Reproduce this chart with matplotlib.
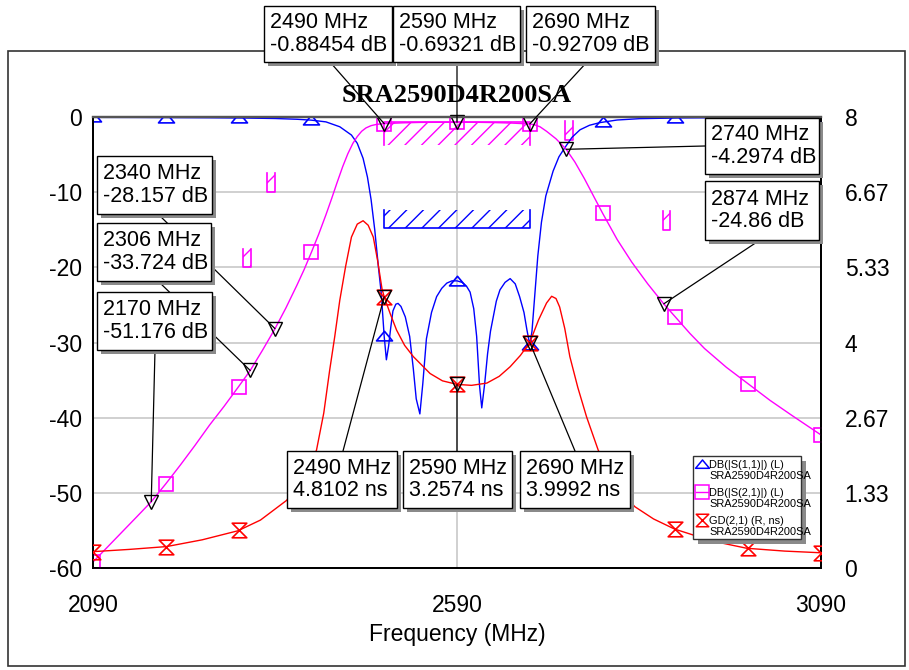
import numpy as np
import matplotlib
matplotlib.use('Agg')
import matplotlib.pyplot as plt
from matplotlib.path import Path
from matplotlib.patches import Rectangle, ConnectionPatch

# ---------------- data ----------------
freq_s11 = [2090, 2150, 2200, 2250, 2300, 2340, 2370, 2390, 2410, 2429, 2445, 2453, 2461,
            2467, 2472, 2477, 2482, 2486, 2490, 2493, 2496, 2499, 2502, 2506, 2509, 2513,
            2519, 2525, 2530, 2534, 2539, 2543, 2548, 2555, 2562, 2569, 2576, 2583, 2590,
            2597, 2603, 2608, 2613, 2617, 2621, 2624, 2628, 2632, 2636, 2640, 2644, 2649,
            2656, 2663, 2670, 2676, 2682, 2686, 2690, 2693, 2697, 2701, 2706, 2712, 2722,
            2730, 2738, 2748, 2759, 2772, 2786, 2810, 2841, 2900, 2980, 3090]
s11_db = [-0.05, -0.06, -0.08, -0.1, -0.14, -0.2, -0.3, -0.42, -0.65, -1.3, -2.4, -3.5, -5.5,
          -8.0, -11.0, -15.0, -19.9, -23.5, -29.2, -32.3, -30.5, -28.0, -25.8, -24.9, -24.8, -25.2,
          -26.6, -29.2, -33.5, -37.5, -39.5, -35.5, -29.5, -26.0, -23.9, -22.8, -22.1, -21.8, -21.8,
          -22.0, -22.5, -23.3, -25.5, -29.2, -35.8, -38.7, -35.5, -31.5, -28.5, -26.5, -24.5, -23.0,
          -22.0, -21.5, -22.2, -23.9, -26.0, -28.3, -30.3, -28.5, -23.5, -18.5, -14.0, -10.5, -7.2,
          -5.3, -4.1, -2.7, -1.7, -1.1, -0.75, -0.4, -0.22, -0.12, -0.08, -0.05]

freq_s21 = [2090, 2110, 2130, 2150, 2170, 2190, 2210, 2230, 2250, 2270, 2289, 2306, 2323, 2340,
            2355, 2370, 2380, 2390, 2400, 2410, 2418, 2425, 2433, 2440, 2447, 2453, 2459, 2465,
            2472, 2480, 2490, 2515, 2540, 2565, 2590, 2615, 2640, 2665, 2690, 2697, 2704, 2713,
            2726, 2740, 2752, 2765, 2778, 2790, 2810, 2830, 2852, 2874, 2889, 2910, 2930, 2960,
            2990, 3020, 3050, 3090]
s21_db = [-59.2, -57.2, -55.2, -53.2, -51.18, -48.8, -46.3, -43.7, -41.0, -38.5, -36.0, -33.72,
          -31.0, -28.16, -25.4, -22.4, -20.3, -18.0, -15.6, -13.0, -10.8, -8.8, -6.6, -4.9, -3.5,
          -2.6, -1.9, -1.45, -1.15, -0.97, -0.885, -0.78, -0.72, -0.70, -0.693, -0.70, -0.74,
          -0.81, -0.927, -1.05, -1.3, -1.9, -2.9, -4.3, -6.0, -8.2, -10.6, -12.8, -16.3, -19.3,
          -22.2, -24.86, -26.5, -28.8, -30.8, -33.3, -35.5, -37.7, -39.7, -42.3]

freq_gd = [2090, 2140, 2191, 2240, 2289, 2320, 2356, 2380, 2397, 2407, 2415, 2422, 2429, 2437,
           2445, 2453, 2461, 2468, 2475, 2481, 2487, 2490, 2498, 2507, 2518, 2530, 2553, 2570,
           2590, 2610, 2631, 2648, 2663, 2677, 2690, 2702, 2713, 2720, 2726, 2731, 2738, 2745,
           2756, 2768, 2784, 2805, 2834, 2860, 2889, 2940, 2988, 3040, 3090]
gd_ns = [0.29, 0.33, 0.38, 0.5, 0.66, 0.85, 1.2, 1.65, 2.09, 2.75, 3.5, 4.1, 4.75, 5.35,
         5.87, 6.1, 6.16, 6.08, 5.87, 5.45, 4.95, 4.81, 4.52, 4.22, 3.95, 3.75, 3.45, 3.32,
         3.257, 3.24, 3.28, 3.4, 3.57, 3.77, 4.0, 4.4, 4.7, 4.82, 4.78, 4.63, 4.25, 3.75,
         3.2, 2.68, 2.09, 1.55, 1.09, 0.87, 0.69, 0.48, 0.35, 0.3, 0.27]

marker_freqs = [2090, 2190, 2290, 2390, 2490, 2590, 2690, 2790, 2890, 2990, 3090]

# marker annotations (dB, left axis)
mk_db_freq = [2490, 2590, 2690, 2740, 2874, 2340, 2306, 2170]
mk_db_val = [-0.88454, -0.69321, -0.92709, -4.2974, -24.86, -28.157, -33.724, -51.176]
# marker annotations (ns, right axis)
mk_gd_freq = [2490, 2590, 2690]
mk_gd_val = [4.8102, 3.2574, 3.9992]

# spec lines: (f_start, f_stop, level)
spec_s21_pass = (2490, 2690, -0.6)
spec_s11_pass = (2490, 2690, -14.8)
spec_s21_rej = [(2329, 2340, -10), (2296, 2307, -20), (2738, 2749, -3), (2873, 2882, -15)]

title = "SRA2590D4R200SA"
x_ticks = [2090, 2590, 3090]
yl_ticks = [0, -10, -20, -30, -40, -50, -60]
yr_ticks = [0, 4/3, 8/3, 4, 16/3, 20/3, 8]
yr_labels = ["0", "1.33", "2.67", "4", "5.33", "6.67", "8"]

# ---------------- figure ----------------
W, H = 909, 670
plt.rcParams['font.family'] = ['Liberation Sans', 'DejaVu Sans']
plt.rcParams['hatch.linewidth'] = 1.0
fig = plt.figure(figsize=(W / 100, H / 100), dpi=100)

def fx(x):
    return x / W

def fy(y):
    return 1 - y / H

L, R, T, B = 93, 821, 117, 568
ax = fig.add_axes([fx(L), fy(B), (R - L) / W, (B - T) / H])
ax2 = ax.twinx()

BLUE, MAG, RED = '#0000ff', '#ff00ff', '#ff0000'

# outer frame
fig.add_artist(Rectangle((fx(8), fy(666)), (905 - 8) / W, (666 - 51) / H,
                         transform=fig.transFigure, fill=False, ec='#333333', lw=1.2, zorder=0))

ax.set_xlim(2090, 3090)
ax.set_ylim(-60, 0)
ax2.set_ylim(0, 8)
ax.set_xticks(x_ticks)
ax.set_xticklabels([str(t) for t in x_ticks])
ax.set_yticks(yl_ticks)
ax.set_yticklabels([str(t) for t in yl_ticks])
ax2.set_yticks(yr_ticks)
ax2.set_yticklabels(yr_labels)
ax.tick_params(axis='x', length=0, pad=19, labelsize=16.5)
ax.tick_params(axis='y', length=0, pad=8, labelsize=16.5)
ax2.tick_params(axis='y', length=0, pad=17, labelsize=16.5)
for a in (ax, ax2):
    for s in ['left', 'right', 'bottom']:
        a.spines[s].set_color('black')
        a.spines[s].set_linewidth(1.3)
    a.spines['top'].set_color('#555555')
    a.spines['top'].set_linewidth(1.6)
ax.grid(True, color='#c8c8c8', lw=1.2)
ax.set_axisbelow(True)
ax.set_xlabel("Frequency (MHz)", fontsize=16.5, labelpad=4)

# hourglass marker
hourglass = Path([(-1, 1), (1, 1), (-1, -1), (1, -1), (-1, 1)],
                 [Path.MOVETO, Path.LINETO, Path.LINETO, Path.LINETO, Path.CLOSEPOLY])
flat_tri = Path([(-1, -0.55), (1, -0.55), (0, 0.65), (-1, -0.55)],
                [Path.MOVETO, Path.LINETO, Path.LINETO, Path.CLOSEPOLY])

# curves
ax.plot(freq_s11, s11_db, color=BLUE, lw=1.0, zorder=3)
ax.plot(freq_s21, s21_db, color=MAG, lw=1.0, zorder=3)
ax2.plot(freq_gd, gd_ns, color=RED, lw=1.0, zorder=3)

ax.plot(marker_freqs, np.interp(marker_freqs, freq_s11, s11_db), ls='none', marker=flat_tri,
        ms=11.5, mfc='none', mec=BLUE, mew=1.2, zorder=4)
ax.plot(marker_freqs, np.interp(marker_freqs, freq_s21, s21_db), ls='none', marker='s',
        ms=10.5, mfc='none', mec=MAG, mew=1.2, zorder=4)
ax2.plot(marker_freqs, np.interp(marker_freqs, freq_gd, gd_ns), ls='none', marker=hourglass,
         ms=10.5, mfc='none', mec=RED, mew=1.2, zorder=4)

# spec masks
def spec(f0, f1, lev, color, hatch_dir, depth):
    y0, y1 = (lev - depth, lev) if hatch_dir == 'down' else (lev, lev + depth)
    ax.fill_between([f0, f1], [y0, y0], [y1, y1], facecolor='none', edgecolor=color,
                    hatch='//', lw=0, zorder=2)
    other = y0 if hatch_dir == 'down' else y1
    ax.plot([f0, f0, f1, f1], [other, lev, lev, other], color=color, lw=1.2, zorder=2)

spec(*spec_s21_pass, MAG, 'down', 3.1)
spec(*spec_s11_pass, BLUE, 'up', 2.4)
for f0, f1, lev in spec_s21_rej:
    spec(f0, f1, lev, MAG, 'up', 2.5)

# marker triangles
ax.plot(mk_db_freq, mk_db_val, ls='none', marker='v', ms=10, mfc='none', mec='black',
        mew=1.0, zorder=6, clip_on=False)
ax2.plot(mk_gd_freq, mk_gd_val, ls='none', marker='v', ms=10, mfc='none', mec='black',
         mew=1.0, zorder=6, clip_on=False)

# title
fig.text(fx(457), fy(95), title, ha='center', va='center', fontsize=19, fontweight='bold',
         family=['Liberation Serif', 'DejaVu Serif'])

# callout boxes
def callout(box, anchor, axis, f, v, line1, line2):
    x0, y0, x1, y1 = box
    con = ConnectionPatch(xyA=(anchor[0], H - anchor[1]), coordsA='figure pixels',
                          xyB=(f, v), coordsB=axis.transData, color='black', lw=0.9,
                          zorder=7)
    fig.add_artist(con)
    fig.add_artist(Rectangle((fx(x0 + 4), fy(y1 + 4)), (x1 - x0) / W, (y1 - y0) / H,
                             transform=fig.transFigure, fc='#8a8a8a', ec='none', zorder=8))
    fig.add_artist(Rectangle((fx(x0), fy(y1)), (x1 - x0) / W, (y1 - y0) / H,
                             transform=fig.transFigure, fc='white', ec='black', lw=1.0,
                             zorder=9))
    fig.text(fx(x0 + 6), fy((y0 + y1) / 2), line1 + "\n" + line2, ha='left', va='center',
             fontsize=15.5, linespacing=1.12, zorder=10)

db_boxes = [(264, 6, 392, 62), (393, 6, 520, 62), (526, 6, 655, 62),
            (705, 118, 819, 174), (705, 181, 819, 240),
            (97, 156, 212, 214), (97, 223, 211, 281), (97, 292, 212, 350)]
db_anchors = [(330, 62), (457, 62), (587, 62), (705, 146), (760, 240),
              (158, 214), (158, 281), (155, 350)]
for bx, an, f, v in zip(db_boxes, db_anchors, mk_db_freq, mk_db_val):
    callout(bx, an, ax, f, v, f"{f} MHz", f"{v:.5g} dB")

gd_boxes = [(287, 451, 397, 508), (403, 451, 512, 508), (520, 451, 630, 508)]
gd_anchors = [(343, 451), (457, 451), (575, 451)]
for bx, an, f, v in zip(gd_boxes, gd_anchors, mk_gd_freq, mk_gd_val):
    callout(bx, an, ax2, f, v, f"{f} MHz", f"{v:.5g} ns")

# legend
lx0, ly0, lx1, ly1 = 693, 456, 801, 539
fig.add_artist(Rectangle((fx(lx0 + 5), fy(ly1 + 5)), (lx1 - lx0) / W, (ly1 - ly0) / H,
                         transform=fig.transFigure, fc='#8a8a8a', ec='none', zorder=8))
fig.add_artist(Rectangle((fx(lx0), fy(ly1)), (lx1 - lx0) / W, (ly1 - ly0) / H,
                         transform=fig.transFigure, fc='white', ec='#333333', lw=1.0, zorder=9))
leg_entries = [("DB(|S(1,1)|) (L)", BLUE, flat_tri, 465, 10),
               ("DB(|S(2,1)|) (L)", MAG, 's', 493, 9.5),
               ("GD(2,1) (R, ns)", RED, hourglass, 521, 9)]
for label, col, mk, yy, msz in leg_entries:
    fig.add_artist(plt.Line2D([fx(702)], [fy(yy - 1)], transform=fig.transFigure, ls='none',
                              marker=mk, ms=msz, mfc='none', mec=col, mew=1.1, zorder=10))
    if mk == 's':
        fig.add_artist(plt.Line2D([fx(696), fx(708)], [fy(yy - 1), fy(yy - 1)],
                                  transform=fig.transFigure, color=col, lw=1.0, zorder=10))
    fig.text(fx(709), fy(yy), label, ha='left', va='center', fontsize=7.9, zorder=10)
    fig.text(fx(709), fy(yy + 11), title, ha='left', va='center', fontsize=7.9, zorder=10)

fig.savefig('out.png', dpi=100)
